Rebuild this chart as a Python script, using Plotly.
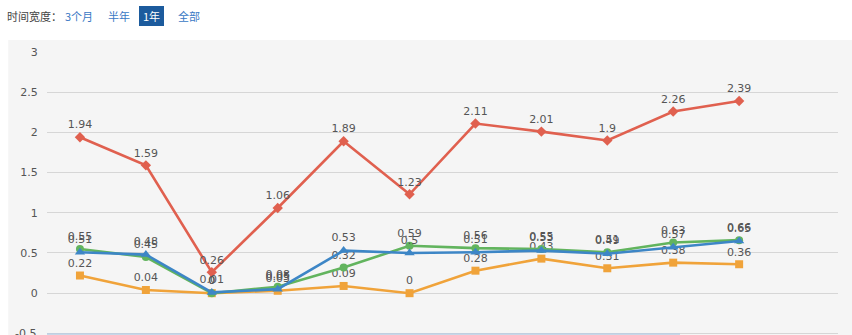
import plotly.graph_objects as go

categories = list(range(11))
red_vals = [1.94, 1.59, 0.26, 1.06, 1.89, 1.23, 2.11, 2.01, 1.9, 2.26, 2.39]
orange_vals = [0.22, 0.04, 0, 0.03, 0.09, 0, 0.28, 0.43, 0.31, 0.38, 0.36]
green_vals = [0.55, 0.45, 0, 0.08, 0.32, 0.59, 0.56, 0.55, 0.51, 0.63, 0.66]
blue_vals = [0.51, 0.48, 0.01, 0.05, 0.53, 0.5, 0.51, 0.53, 0.49, 0.57, 0.65]
y_ticks = [-0.5, 0, 0.5, 1, 1.5, 2, 2.5, 3]

series = [
    (red_vals, "#e0604f", "diamond", 8),
    (orange_vals, "#f0a33a", "square", 8),
    (green_vals, "#62b45e", "circle", 8),
    (blue_vals, "#3d86c6", "triangle-up", 9),
]

fig = go.Figure()
for vals, col, sym, sz in series:
    fig.add_trace(go.Scatter(
        x=categories, y=vals, mode="lines+markers+text",
        line=dict(color=col, width=2.6),
        marker=dict(color=col, symbol=sym, size=sz),
        text=[str(v) for v in vals], textposition="top center",
        textfont=dict(family="DejaVu Sans", size=11, color="#555555"),
        cliponaxis=False, showlegend=False,
    ))

# chart panel background
fig.add_shape(type="rect", xref="paper", yref="paper",
              x0=-0.049, x1=1.02, y0=-0.05, y1=1.042,
              fillcolor="#f5f5f5", line=dict(width=0), layer="below")

# faint navigator line at the bottom edge
fig.add_shape(type="line", xref="paper", yref="paper",
              x0=0, x1=(680-47)/791, y0=(335-334)/283, y1=(335-334)/283,
              line=dict(color="#b9cde3", width=1.5))

# time range controls
ann = dict(xref="paper", yref="paper", showarrow=False, yanchor="middle", xanchor="left")
fig.add_annotation(text="时间宽度：", x=(5-47)/791, y=(335-16)/283,
                   font=dict(family="Noto Sans CJK SC", size=11, color="#444444"), **ann)
fig.add_annotation(text="3个月", x=(63-47)/791, y=(335-16)/283,
                   font=dict(family="Noto Sans CJK SC", size=11, color="#3a78c4"), **ann)
fig.add_annotation(text="半年", x=(106-47)/791, y=(335-16)/283,
                   font=dict(family="Noto Sans CJK SC", size=11, color="#3a78c4"), **ann)
fig.add_shape(type="rect", xref="paper", yref="paper",
              x0=(139-47)/791, x1=(164-47)/791, y0=(335-26)/283, y1=(335-6)/283,
              fillcolor="#1c5b9d", line=dict(width=0))
fig.add_annotation(text="1年", x=(151.5-47)/791, y=(335-16)/283, xref="paper", yref="paper",
                   showarrow=False, yanchor="middle", xanchor="center",
                   font=dict(family="Noto Sans CJK SC", size=11, color="#ffffff"))
fig.add_annotation(text="全部", x=(176-47)/791, y=(335-16)/283,
                   font=dict(family="Noto Sans CJK SC", size=11, color="#3a78c4"), **ann)

# bottom tick label (partly cut off, as in the reference)
fig.add_annotation(text="-0.5", xref="paper", yref="y", x=(38-47)/791, y=y_ticks[0],
                   showarrow=False, xanchor="right", yanchor="middle",
                   font=dict(family="DejaVu Sans", size=11, color="#555555"))

fig.update_layout(
    width=852, height=335,
    margin=dict(l=47, r=14, t=52, b=0),
    paper_bgcolor="#ffffff", plot_bgcolor="rgba(0,0,0,0)",
    xaxis=dict(range=[-0.5, 11.5], showgrid=False, showticklabels=False,
               zeroline=False, showline=False, ticks=""),
    yaxis=dict(range=[-0.52, 3.0], tickvals=y_ticks,
               ticktext=[("%g" % v) for v in y_ticks],
               showgrid=True, gridcolor="#d6d6d6", gridwidth=1,
               zeroline=False, showline=False, ticks="outside", ticklen=6, tickcolor="rgba(0,0,0,0)",
               tickfont=dict(family="DejaVu Sans", size=11, color="#555555")),
    font=dict(family="DejaVu Sans"),
)

fig.write_html("out.html")
